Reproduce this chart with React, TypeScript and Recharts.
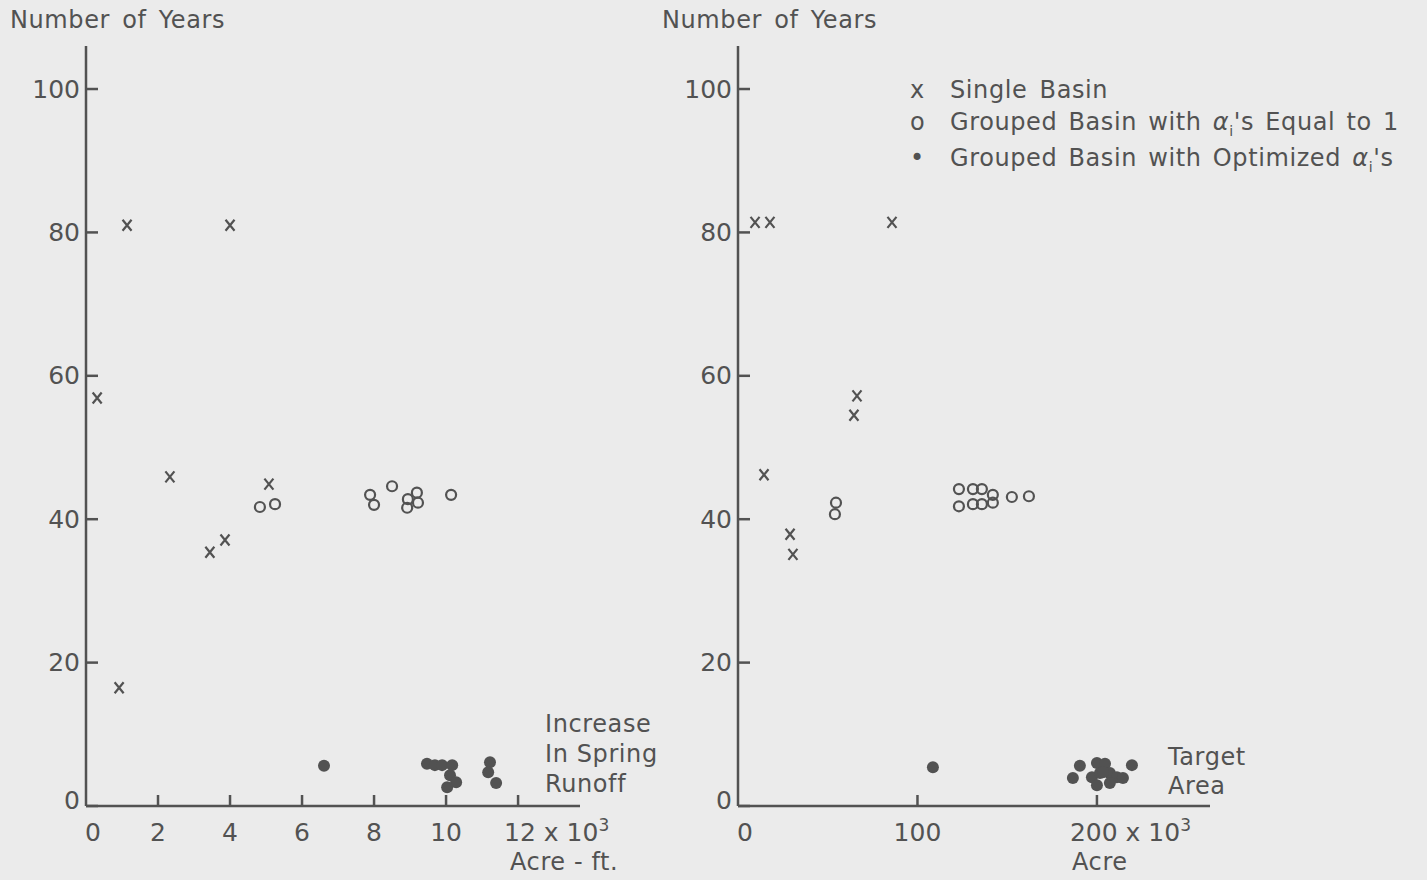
import { ScatterChart, Scatter, XAxis, YAxis } from 'recharts'

const INK = '#525252'
const BG = '#ebebeb'
const FONT = '"DejaVu Sans", sans-serif'

// y ticks shared by both panels
const yTicks = [0, 20, 40, 60, 80, 100]

// left panel: increase in spring runoff (10^3 acre-ft)
const leftXTicks = [0, 2, 4, 6, 8, 10, 12]
const leftSingle = [
  { x: 1.14, y: 81.0 },
  { x: 4.0, y: 81.0 },
  { x: 0.31, y: 56.9 },
  { x: 2.33, y: 45.9 },
  { x: 5.08, y: 44.9 },
  { x: 3.44, y: 35.4 },
  { x: 3.86, y: 37.1 },
  { x: 0.92, y: 16.5 },
]
const leftEqual = [
  { x: 4.83, y: 41.7 },
  { x: 5.25, y: 42.1 },
  { x: 7.89, y: 43.4 },
  { x: 8.0, y: 42.0 },
  { x: 8.5, y: 44.6 },
  { x: 8.94, y: 42.8 },
  { x: 9.19, y: 43.7 },
  { x: 9.22, y: 42.3 },
  { x: 8.92, y: 41.6 },
  { x: 10.14, y: 43.4 },
]
const leftOptimized = [
  { x: 6.61, y: 5.6 },
  { x: 9.47, y: 5.9 },
  { x: 9.69, y: 5.7 },
  { x: 9.89, y: 5.7 },
  { x: 10.17, y: 5.7 },
  { x: 10.11, y: 4.3 },
  { x: 10.28, y: 3.3 },
  { x: 10.03, y: 2.6 },
  { x: 11.22, y: 6.1 },
  { x: 11.17, y: 4.7 },
  { x: 11.39, y: 3.2 },
]

// right panel: target area (10^3 acre)
const rightXTicks = [0, 100, 200]
const rightSingle = [
  { x: 9.5, y: 81.4 },
  { x: 17.8, y: 81.4 },
  { x: 85.8, y: 81.4 },
  { x: 14.5, y: 46.2 },
  { x: 29.0, y: 37.9 },
  { x: 30.6, y: 35.1 },
  { x: 66.3, y: 57.2 },
  { x: 64.6, y: 54.5 },
]
const rightEqual = [
  { x: 54.6, y: 42.3 },
  { x: 54.0, y: 40.7 },
  { x: 123.1, y: 44.2 },
  { x: 123.1, y: 41.8 },
  { x: 130.9, y: 44.2 },
  { x: 135.9, y: 44.2 },
  { x: 130.9, y: 42.1 },
  { x: 135.9, y: 42.1 },
  { x: 142.0, y: 43.4 },
  { x: 142.0, y: 42.3 },
  { x: 152.6, y: 43.1 },
  { x: 162.1, y: 43.2 },
]
const rightOptimized = [
  { x: 108.6, y: 5.4 },
  { x: 190.5, y: 5.6 },
  { x: 186.6, y: 3.9 },
  { x: 200.0, y: 6.0 },
  { x: 204.5, y: 5.9 },
  { x: 219.5, y: 5.7 },
  { x: 197.2, y: 4.0 },
  { x: 201.7, y: 4.6 },
  { x: 207.2, y: 4.6 },
  { x: 211.1, y: 4.0 },
  { x: 214.5, y: 3.9 },
  { x: 200.0, y: 2.9 },
  { x: 203.3, y: 4.7 },
  { x: 207.2, y: 3.2 },
]

const Cross = (props: any) => {
  const { cx, cy } = props
  return (
    <path
      d={`M${cx - 4.5},${cy - 5.5} L${cx + 4.5},${cy + 5.5} M${cx + 4.5},${cy - 5.5} L${cx - 4.5},${cy + 5.5}`}
      stroke={INK}
      strokeWidth={2.2}
      fill="none"
    />
  )
}
const Ring = (props: any) => <circle cx={props.cx} cy={props.cy} r={5} stroke={INK} strokeWidth={2.2} fill="none" />
const Dot = (props: any) => <circle cx={props.cx} cy={props.cy} r={6} fill={INK} />

function YTick({ x, y, payload }: any) {
  return (
    <g>
      <line x1={x} y1={y} x2={x + 12} y2={y} stroke={INK} strokeWidth={2.5} />
      <text x={x - 6} y={payload.value === 0 ? y - 6 : y} textAnchor="end" dominantBaseline="central" fill={INK} fontSize={25} fontFamily={FONT}>
        {payload.value}
      </text>
    </g>
  )
}

function makeXTick(last: number, offset: number) {
  return function XTick({ x, y, payload }: any) {
    const v = payload.value
    return (
      <g>
        {v !== 0 && <line x1={x} y1={y} x2={x} y2={y - 11} stroke={INK} strokeWidth={2.5} />}
        {v === last ? (
          <text x={x - offset} y={y + 35} textAnchor="start" fill={INK} fontSize={25} fontFamily={FONT}>
            {v} x 10<tspan dy={-10} fontSize={17}>3</tspan>
          </text>
        ) : (
          <text x={v === 0 ? x + 7 : x} y={y + 35} textAnchor="middle" fill={INK} fontSize={25} fontFamily={FONT}>
            {v}
          </text>
        )}
      </g>
    )
  }
}

const textStyle: React.CSSProperties = {
  position: 'absolute',
  color: INK,
  fontFamily: FONT,
  fontSize: 24,
  lineHeight: '30px',
  whiteSpace: 'nowrap',
  letterSpacing: 0.6,
}

function Panel({ left, width, margin, xDomain, xTicks, single, equal, optimized, last, offset }: any) {
  return (
    <div style={{ position: 'absolute', left, top: 0 }}>
      <ScatterChart width={width} height={880} margin={margin}>
        <XAxis
          type="number"
          dataKey="x"
          domain={xDomain}
          ticks={xTicks}
          interval={0}
          height={1}
          tickSize={0}
          tickMargin={0}
          axisLine={{ stroke: INK, strokeWidth: 2.5 }}
          tickLine={false}
          tick={makeXTick(last, offset)}
          allowDataOverflow
        />
        <YAxis
          type="number"
          dataKey="y"
          domain={[0, 106]}
          ticks={yTicks}
          interval={0}
          width={1}
          tickSize={0}
          tickMargin={0}
          axisLine={{ stroke: INK, strokeWidth: 2.5 }}
          tickLine={false}
          tick={YTick}
          allowDataOverflow
        />
        <Scatter data={single} shape={Cross} isAnimationActive={false} />
        <Scatter data={equal} shape={Ring} isAnimationActive={false} />
        <Scatter data={optimized} shape={Dot} isAnimationActive={false} />
      </ScatterChart>
    </div>
  )
}

export default function App() {
  return (
    <div style={{ position: 'absolute', left: 0, top: 0, width: 1427, height: 880, background: BG, overflow: 'hidden' }}>
      <Panel
        left={0}
        width={640}
        margin={{ top: 46, left: 85, right: 60, bottom: 73 }}
        xDomain={[0, 13.72]}
        xTicks={leftXTicks}
        single={leftSingle}
        equal={leftEqual}
        optimized={leftOptimized}
        last={12}
        offset={14}
      />
      <Panel
        left={640}
        width={787}
        margin={{ top: 46, left: 97, right: 217, bottom: 73 }}
        xDomain={[0, 263]}
        xTicks={rightXTicks}
        single={rightSingle}
        equal={rightEqual}
        optimized={rightOptimized}
        last={200}
        offset={27}
      />

      <div style={{ ...textStyle, left: 10, top: 5, wordSpacing: 4 }}>Number of Years</div>
      <div style={{ ...textStyle, left: 662, top: 5, wordSpacing: 4 }}>Number of Years</div>

      <div style={{ ...textStyle, left: 545, top: 709 }}>Increase</div>
      <div style={{ ...textStyle, left: 545, top: 739 }}>In Spring</div>
      <div style={{ ...textStyle, left: 545, top: 769 }}>Runoff</div>
      <div style={{ ...textStyle, left: 510, top: 847 }}>Acre - ft.</div>

      <div style={{ ...textStyle, left: 1168, top: 742 }}>Target</div>
      <div style={{ ...textStyle, left: 1168, top: 771 }}>Area</div>
      <div style={{ ...textStyle, left: 1072, top: 847 }}>Acre</div>

      <div style={{ ...textStyle, left: 910, top: 75, wordSpacing: 4 }}>
        <span style={{ display: 'inline-block', width: 40 }}>x</span>Single Basin
      </div>
      <div style={{ ...textStyle, left: 910, top: 107, wordSpacing: 3 }}>
        <span style={{ display: 'inline-block', width: 40 }}>o</span>Grouped Basin with <i>α</i>
        <sub style={{ fontSize: 14 }}>i</sub>'s Equal to 1
      </div>
      <div style={{ ...textStyle, left: 910, top: 143, wordSpacing: 3 }}>
        <span style={{ display: 'inline-block', width: 40 }}>•</span>Grouped Basin with Optimized <i>α</i>
        <sub style={{ fontSize: 14 }}>i</sub>'s
      </div>
    </div>
  )
}
